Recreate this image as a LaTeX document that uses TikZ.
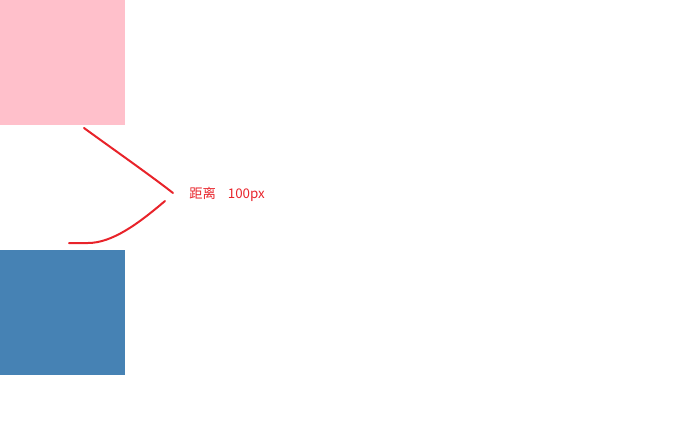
\documentclass[tikz,border=0pt]{standalone}
\usepackage{fontspec}
\setmainfont{Noto Sans CJK SC}
\definecolor{pinkbox}{HTML}{FFC0CB}
\definecolor{bluebox}{HTML}{4682B4}
\definecolor{penred}{HTML}{E8232A}
\begin{document}
\begin{tikzpicture}[x=0.75pt,y=-0.75pt,
  box/.style={fill=#1,draw=none,minimum width=93.75pt,minimum height=93.75pt,inner sep=0pt,outer sep=0pt,anchor=north west},
  pen/.style={draw=penred,line width=1.5pt,line cap=round,line join=round},
  lbl/.style={text=penred,font=\fontsize{10}{12}\selectfont,inner sep=0pt,anchor=west}]
\useasboundingbox (0,0) rectangle (691,428);
\node[box=pinkbox] (top) at (0,0) {};
\node[box=bluebox] (bottom) at (0,250) {};
\coordinate (a1) at (84,128);
\coordinate (a2) at (173,193);
\coordinate (b1) at (165,201);
\coordinate (b2) at (88,243);
\coordinate (b3) at (69,243);
\draw[pen] (a1) .. controls (110,147) and (150,175) .. (a2);
\draw[pen] (b1) .. controls (138,224) and (112,243) .. (b2) -- (b3);
\node[lbl] (dist) at (189,194) {距离\hspace{0.9em}100px};
\end{tikzpicture}
\end{document}
